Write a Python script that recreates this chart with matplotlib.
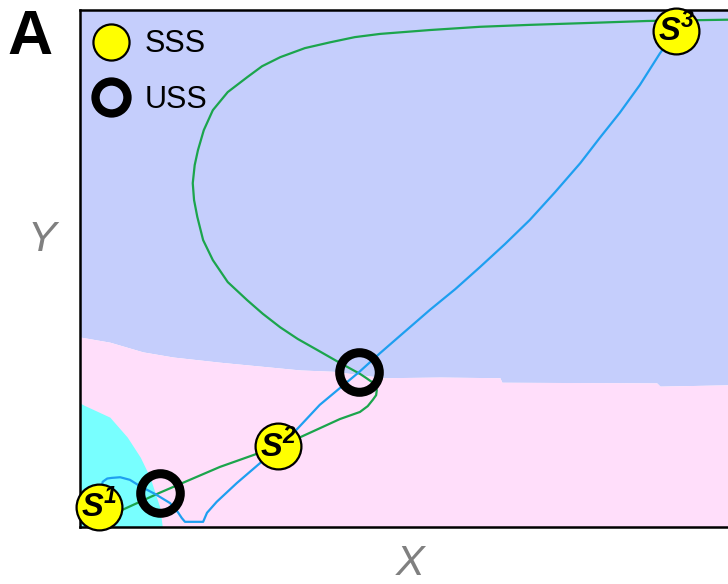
import matplotlib.pyplot as plt
from matplotlib.lines import Line2D

plt.rcParams['font.family'] = ['Liberation Sans', 'DejaVu Sans']
plt.rcParams['mathtext.fontset'] = 'custom'
plt.rcParams['mathtext.rm'] = 'Liberation Sans'
plt.rcParams['mathtext.bf'] = 'Liberation Sans:italic:bold'

# separatrix between the S3 basin (top) and the S2 basin (bottom)
sep_x = [0.00, 0.46, 0.97, 1.44, 2.16, 2.78, 3.40, 3.90, 4.68, 5.56, 6.48,
         6.51, 8.90, 8.95, 10.0]
sep_y = [2.94, 2.86, 2.71, 2.63, 2.55, 2.49, 2.43, 2.41, 2.31, 2.32, 2.31,
         2.24, 2.23, 2.18, 2.20]

# S1 basin in the lower left corner
s1_basin_y = [1.92, 1.89, 1.70, 1.39, 1.08, 0.77, 0.31, 0.00]
s1_basin_x = [0.00, 0.05, 0.46, 0.73, 0.93, 1.08, 1.23, 1.27]

# X nullcline (green)
green_x = [0.30, 0.62, 1.23, 2.16, 3.06, 3.40, 4.01, 4.32, 4.44, 4.52,
           4.57, 4.58, 4.55, 4.51, 4.41, 4.32, 4.01, 3.66, 3.36, 3.09,
           2.82, 2.58, 2.28, 2.05, 1.90, 1.81, 1.76, 1.74, 1.77, 1.82,
           1.91, 2.05, 2.28, 2.58, 2.81, 3.09, 3.47, 3.86, 4.24, 4.63,
           5.40, 6.17, 6.94, 7.87, 8.75, 10.0]
green_y = [0.22, 0.25, 0.53, 0.93, 1.25, 1.39, 1.67, 1.78, 1.87, 1.97,
           2.04, 2.12, 2.20, 2.24, 2.31, 2.37, 2.54, 2.74, 2.91, 3.09,
           3.30, 3.51, 3.79, 4.13, 4.44, 4.80, 5.06, 5.32, 5.60, 5.83,
           6.14, 6.45, 6.73, 6.96, 7.13, 7.27, 7.41, 7.50, 7.58, 7.63,
           7.69, 7.74, 7.77, 7.80, 7.83, 7.85]

# Y nullcline (blue)
blue_x = [0.29, 0.35, 0.42, 0.49, 0.62, 0.77, 0.93, 1.16, 1.39, 1.51,
          1.57, 1.62, 1.90, 1.96, 2.11, 2.42, 2.78, 3.06, 3.29, 3.70,
          4.31, 4.63, 4.94, 5.40, 5.79, 6.17, 6.56, 6.94, 7.33, 7.72,
          8.02, 8.33, 8.64, 8.95, 9.20]
blue_y = [0.31, 0.70, 0.75, 0.76, 0.77, 0.73, 0.63, 0.51, 0.37, 0.23,
          0.14, 0.08, 0.08, 0.22, 0.39, 0.68, 0.99, 1.25, 1.45, 1.89,
          2.40, 2.69, 2.96, 3.36, 3.68, 4.02, 4.38, 4.75, 5.18, 5.63,
          6.02, 6.41, 6.84, 7.33, 7.67]

# steady states
sss_x = [0.29, 3.06, 9.20]
sss_y = [0.31, 1.25, 7.68]
sss_names = ['1', '2', '3']
uss_x = [1.23, 4.31]
uss_y = [0.53, 2.40]

fig = plt.figure(figsize=(7.28, 5.84), dpi=100)
ax = fig.add_axes([80 / 728, 57 / 584, 648 / 728, 517 / 584])
ax.set_xlim(0, 10)
ax.set_ylim(0, 8)

ax.fill_between(sep_x, sep_y, 8, color='#c5cefc', lw=0, zorder=0)
ax.fill_between(sep_x, 0, sep_y, color='#ffdefa', lw=0, zorder=0)
ax.fill_betweenx(s1_basin_y, 0, s1_basin_x, color='#78ffff', lw=0, zorder=0)

ax.plot(green_x, green_y, color='#1ba54c', lw=1.6, zorder=2,
        solid_joinstyle='round')
ax.plot(blue_x, blue_y, color='#1e9ff0', lw=1.6, zorder=2,
        solid_joinstyle='round')

ax.plot(uss_x, uss_y, 'o', ms=28.5, mfc='none', mec='black', mew=6.5,
        zorder=4, clip_on=False)
ax.plot(sss_x, sss_y, 'o', ms=33, mfc='#ffff00', mec='black', mew=1.6,
        zorder=5, clip_on=False)
for x, y, n in zip(sss_x, sss_y, sss_names):
    ax.text(x, y, r'$\mathbf{S}^{\mathbf{%s}}$' % n, fontsize=23.5,
            ha='center', va='center', zorder=6)

handles = [
    Line2D([], [], ls='none', marker='o', ms=26, mfc='#ffff00', mec='black', mew=1.6),
    Line2D([], [], ls='none', marker='o', ms=23, mfc='none', mec='black', mew=6),
]
ax.legend(handles, ['SSS', 'USS'], loc='upper left', bbox_to_anchor=(0.0, 0.992),
          frameon=False, fontsize=22, handlelength=1.0, handletextpad=0.6,
          borderpad=0.4, borderaxespad=0.1, labelspacing=0.84)

for side in ['top', 'left', 'bottom']:
    ax.spines[side].set_linewidth(1.8)
ax.spines['right'].set_visible(False)
ax.set_xticks([])
ax.set_yticks([])

ax.set_xlabel('X', fontsize=31, fontstyle='italic', color='#808080', va='center')
ax.xaxis.set_label_coords(0.509, -0.072)
ax.set_ylabel('Y', fontsize=31, fontstyle='italic', color='#808080',
              rotation=0, va='center', ha='center')
ax.yaxis.set_label_coords(-0.059, 0.555)

fig.text(30 / 728, 1 - 38 / 584, 'A', fontsize=45, fontweight='bold',
         ha='center', va='center')

fig.savefig('out.png', dpi=100)
